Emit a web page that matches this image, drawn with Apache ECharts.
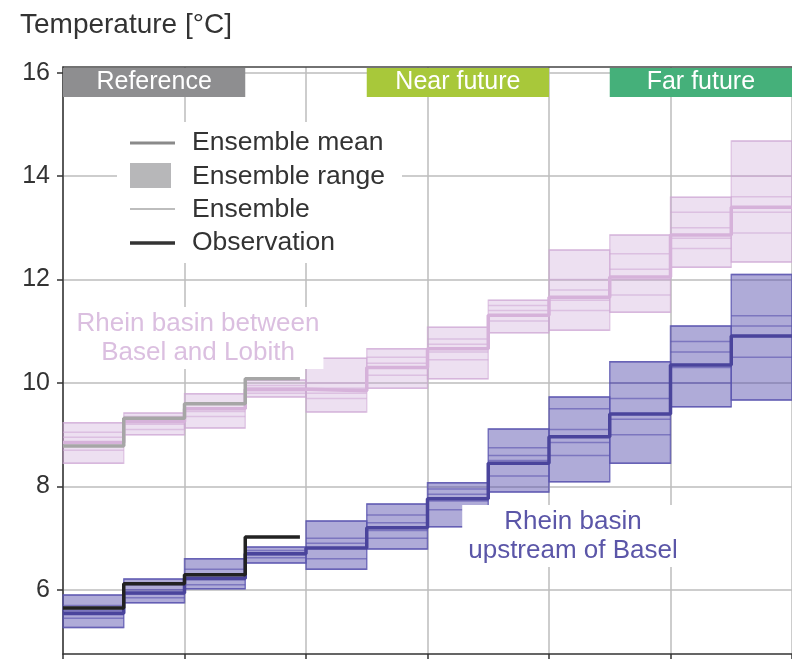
<!DOCTYPE html>
<html>
<head>
<meta charset="utf-8">
<script src="https://cdn.jsdelivr.net/npm/echarts@6/dist/echarts.min.js"></script>
<style>
  html, body { margin: 0; padding: 0; background: #fff; }
  #chart { width: 792px; height: 659px; }
</style>
</head>
<body>
<div id="chart"></div>
<script>
// Twelve periods along the x axis (step index 0..12)
const periodCount = 12;
const yTicks = [6, 8, 10, 12, 14, 16];
const yMin = 4.76;
const yMax = 16.11;

// Rhein basin between Basel and Lobith
const lobithMean = [8.85, 9.25, 9.5, 9.88, 9.85, 10.3, 10.66, 11.31, 11.66, 12.05, 12.86, 13.4];
const lobithMembers = [
  [9.23, 9.05, 8.95, 8.85, 8.7, 8.45],
  [9.42, 9.35, 9.28, 9.2, 9.1, 9.0],
  [9.79, 9.62, 9.52, 9.45, 9.35, 9.13],
  [10.06, 9.95, 9.9, 9.85, 9.8, 9.73],
  [10.48, 10.0, 9.9, 9.8, 9.7, 9.44],
  [10.66, 10.5, 10.38, 10.3, 10.15, 9.9],
  [11.08, 10.85, 10.75, 10.6, 10.45, 10.08],
  [11.6, 11.5, 11.4, 11.3, 11.2, 10.97],
  [12.57, 12.0, 11.8, 11.6, 11.4, 11.02],
  [12.86, 12.5, 12.2, 12.0, 11.7, 11.37],
  [13.59, 13.3, 13.0, 12.8, 12.6, 12.24],
  [14.68, 14.0, 13.6, 13.3, 12.9, 12.34]
];
const lobithObs = [8.78, 9.32, 9.6, 10.08];

// Rhein basin upstream of Basel
const baselMean = [5.55, 5.94, 6.22, 6.7, 6.81, 7.2, 7.76, 8.45, 8.96, 9.4, 10.35, 10.91];
const baselMembers = [
  [5.9, 5.7, 5.6, 5.52, 5.45, 5.27],
  [6.21, 6.1, 6.0, 5.92, 5.85, 5.75],
  [6.6, 6.4, 6.28, 6.2, 6.1, 6.02],
  [6.83, 6.76, 6.72, 6.68, 6.62, 6.52],
  [7.33, 7.0, 6.9, 6.8, 6.6, 6.4],
  [7.66, 7.45, 7.3, 7.15, 7.0, 6.79],
  [8.07, 7.95, 7.85, 7.72, 7.55, 7.22],
  [9.11, 8.75, 8.6, 8.5, 8.2, 7.89],
  [9.73, 9.5, 9.1, 8.85, 8.6, 8.09],
  [10.41, 10.0, 9.7, 9.3, 9.0, 8.45],
  [11.1, 10.8, 10.6, 10.3, 10.0, 9.54],
  [12.1, 11.3, 11.1, 10.9, 10.5, 9.67]
];
const baselObs = [5.65, 6.12, 6.29, 7.02];
const obsEnd = 3.9;

// Period header bands
const periodNames = ['Reference', 'Near future', 'Far future'];
const periodStart = [0, 5, 9];
const periodEnd = [3, 8, 12];

const headerColors = ['#8e8e90', '#a8c83a', '#45b07a'];
const FONT = '"Liberation Sans", Arial, Helvetica, sans-serif';

// ---- derived tables ----
const rangeData = members => members.map((m, i) => [i, Math.min(...m), Math.max(...m)]);
const memberData = members => {
  const out = [];
  members.forEach((m, i) => m.forEach(v => out.push([i, v])));
  return out;
};
const stepData = mean => mean.map((v, i) => [i, v]).concat([[periodCount, mean[mean.length - 1]]]);
const obsData = obs => obs.map((v, i) => [i, v]).concat([[obsEnd, obs[obs.length - 1]]]);

function rangeRenderer(fill, stroke) {
  return function (params, api) {
    const i = api.value(0);
    const p0 = api.coord([i, api.value(2)]);
    const p1 = api.coord([i + 1, api.value(1)]);
    return {
      type: 'rect',
      shape: { x: p0[0], y: p0[1], width: p1[0] - p0[0], height: p1[1] - p0[1] },
      style: { fill: fill, stroke: stroke, lineWidth: 1.5 }
    };
  };
}
function memberRenderer(stroke) {
  return function (params, api) {
    const i = api.value(0), v = api.value(1);
    const p0 = api.coord([i, v]);
    const p1 = api.coord([i + 1, v]);
    return {
      type: 'line',
      shape: { x1: p0[0], y1: p0[1], x2: p1[0], y2: p1[1] },
      style: { stroke: stroke, lineWidth: 1.5 }
    };
  };
}

const headerData = periodNames.map((n, k) => [periodStart[k], periodEnd[k], n, k]);

const chart = echarts.init(document.getElementById('chart'), null, { renderer: 'canvas' });

const gridColor = '#bcbcbc';

chart.setOption({
  animation: false,
  backgroundColor: '#fff',
  grid: { left: 63, right: 0, top: 67, bottom: 5 },
  xAxis: [{
    type: 'value', min: 0, max: periodCount, interval: 2,
    axisLine: { lineStyle: { color: '#333', width: 1.5 } },
    axisTick: { show: true, inside: false, length: 6, lineStyle: { color: '#333', width: 1.5 } },
    axisLabel: { show: false },
    splitLine: { show: true, lineStyle: { color: gridColor, width: 1.5 } }
  }, {
    type: 'value', position: 'top', min: 0, max: periodCount,
    axisLine: { show: true, lineStyle: { color: '#444', width: 1.5 } },
    axisTick: { show: false }, axisLabel: { show: false }, splitLine: { show: false }
  }],
  yAxis: {
    type: 'value', min: yMin, max: yMax,
    name: 'Temperature [°C]',
    nameLocation: 'end',
    nameGap: 28,
    nameTextStyle: { fontFamily: FONT, fontSize: 28, color: '#333', align: 'left', padding: [0, 0, 0, -43] },
    axisLine: { show: true, lineStyle: { color: '#333', width: 1.5 } },
    axisTick: { show: true, inside: false, length: 6, customValues: yTicks, lineStyle: { color: '#333', width: 1.5 } },
    axisLabel: { customValues: yTicks, fontFamily: FONT, fontSize: 25, color: '#333', margin: 13 },
    splitLine: { show: true, lineStyle: { color: gridColor, width: 1.5 } }
  },
  series: [
    {
      type: 'custom', name: 'Lobith range', renderItem: rangeRenderer('rgba(200,160,210,0.32)', 'rgba(205,165,212,0.5)'),
      data: rangeData(lobithMembers), z: 3
    },
    {
      type: 'custom', name: 'Lobith ensemble', renderItem: memberRenderer('rgba(205,165,212,0.55)'),
      data: memberData(lobithMembers), z: 4
    },
    {
      type: 'line', name: 'Lobith mean', step: 'end', data: stepData(lobithMean), symbol: 'none',
      lineStyle: { color: '#d6b2da', width: 3.5 }, z: 5
    },
    {
      type: 'line', name: 'Lobith observation', step: 'end', data: obsData(lobithObs), symbol: 'none',
      lineStyle: { color: '#a6a6a6', width: 3.5 }, z: 6
    },
    {
      type: 'custom', name: 'Basel range', renderItem: rangeRenderer('rgba(80,72,170,0.46)', 'rgba(90,84,175,0.75)'),
      data: rangeData(baselMembers), z: 3
    },
    {
      type: 'custom', name: 'Basel ensemble', renderItem: memberRenderer('rgba(90,84,175,0.6)'),
      data: memberData(baselMembers), z: 4
    },
    {
      type: 'line', name: 'Basel mean', step: 'end', data: stepData(baselMean), symbol: 'none',
      lineStyle: { color: '#4a449c', width: 3.5 }, z: 5
    },
    {
      type: 'line', name: 'Basel observation', step: 'end', data: obsData(baselObs), symbol: 'none',
      lineStyle: { color: '#222', width: 3.5 }, z: 6
    },
    {
      type: 'custom', name: 'Periods', z: 8,
      renderItem: function (params, api) {
        const p0 = api.coord([api.value(0), yMax]);
        const p1 = api.coord([api.value(1), yMax]);
        const k = api.value(3);
        return {
          type: 'rect',
          shape: { x: p0[0], y: p0[1] + 1, width: p1[0] - p0[0], height: 29 },
          style: { fill: headerColors[k] },
          textContent: {
            style: { text: periodNames[k], fill: '#fff', fontFamily: FONT, fontSize: 25 }
          },
          textConfig: { position: 'inside' }
        };
      },
      data: headerData
    }
  ],
  graphic: [
    // legend panel
    { type: 'rect', left: 117, top: 122, shape: { width: 285, height: 141 }, style: { fill: '#fff' }, z: 20 },
    { type: 'line', shape: { x1: 130, y1: 143, x2: 175, y2: 143 }, style: { stroke: '#8a8a8a', lineWidth: 3 }, z: 21 },
    { type: 'rect', shape: { x: 130, y: 163, width: 41, height: 25 }, style: { fill: '#b7b7b9' }, z: 21 },
    { type: 'line', shape: { x1: 130, y1: 209, x2: 175, y2: 209 }, style: { stroke: '#bdbdbd', lineWidth: 2 }, z: 21 },
    { type: 'line', shape: { x1: 130, y1: 243, x2: 175, y2: 243 }, style: { stroke: '#333', lineWidth: 3.5 }, z: 21 },
    { type: 'text', x: 192, y: 143, style: { text: 'Ensemble mean', fill: '#333', font: '26.5px ' + FONT, verticalAlign: 'middle' }, z: 21 },
    { type: 'text', x: 192, y: 177, style: { text: 'Ensemble range', fill: '#333', font: '26.5px ' + FONT, verticalAlign: 'middle' }, z: 21 },
    { type: 'text', x: 192, y: 210, style: { text: 'Ensemble', fill: '#333', font: '26.5px ' + FONT, verticalAlign: 'middle' }, z: 21 },
    { type: 'text', x: 192, y: 243, style: { text: 'Observation', fill: '#333', font: '26.5px ' + FONT, verticalAlign: 'middle' }, z: 21 },
    // basin annotations
    {
      type: 'text', x: 198, y: 338, z: 21,
      style: {
        text: 'Rhein basin between\nBasel and Lobith', fill: '#dbbfe0', font: '26px ' + FONT,
        align: 'center', verticalAlign: 'middle', lineHeight: 29,
        backgroundColor: '#fff', padding: [2, 4]
      }
    },
    {
      type: 'text', x: 573, y: 536, z: 21,
      style: {
        text: 'Rhein basin\nupstream of Basel', fill: '#5b56a8', font: '26px ' + FONT,
        align: 'center', verticalAlign: 'middle', lineHeight: 29,
        backgroundColor: '#fff', padding: [2, 6]
      }
    }
  ]
});
</script>
</body>
</html>
